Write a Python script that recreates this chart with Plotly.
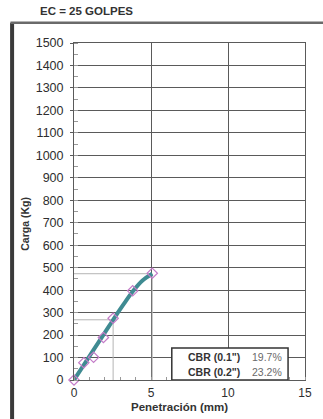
import plotly.graph_objects as go

# Load readings (mm, kg)
penetration = [0, 0.64, 1.27, 1.91, 2.54, 3.81, 5.08]
load = [0, 77, 101, 189, 275, 397, 475]

# Corrected curve
curve_pen = [0, 0.64, 1.27, 1.91, 2.54, 3.18, 3.81, 4.45, 5.08]
curve_load = [0, 67, 134, 201, 268, 333, 394, 443, 473]

# CBR reference penetrations and corrected loads
cbr_pen = [2.54, 5.08]
cbr_load = [268, 473]
cbr_labels = ['CBR (0.1")', 'CBR (0.2")']
cbr_values = ["19.7%", "23.2%"]

y_ticks = list(range(0, 1501, 100))
x_ticks = [0, 5, 10, 15]

FONT = "Liberation Sans, Arial, sans-serif"
GRID = "#5a5a5a"

fig = go.Figure()

# Guide lines from the axes to the corrected loads
for p, l in zip(cbr_pen, cbr_load):
    fig.add_trace(go.Scatter(
        x=[0, p, p], y=[l, l, 0], mode="lines",
        line=dict(color="#b4b4b4", width=1), hoverinfo="skip", showlegend=False))

fig.add_trace(go.Scatter(
    x=curve_pen, y=curve_load, mode="lines",
    line=dict(color="#3f8b92", width=4, shape="spline", smoothing=0.8),
    showlegend=False))

fig.add_trace(go.Scatter(
    x=penetration, y=load, mode="markers",
    marker=dict(symbol="diamond-open", size=8, color="#c47cc8", line=dict(width=1.2)),
    showlegend=False, cliponaxis=False))

# CBR summary box
fig.add_shape(type="rect", xref="x", yref="y", x0=6.35, x1=13.9, y0=0, y1=142,
              line=dict(color="#333333", width=1.5), fillcolor="white", layer="above")
for i, (lab, val) in enumerate(zip(cbr_labels, cbr_values)):
    yv = 102 - i * 66
    fig.add_annotation(x=10.9, y=yv, xref="x", yref="y", text=f"<b>{lab}</b>",
                       showarrow=False, xanchor="right", yanchor="middle",
                       font=dict(family=FONT, size=10.5, color="#333333"))
    fig.add_annotation(x=13.65, y=yv, xref="x", yref="y", text=val,
                       showarrow=False, xanchor="right", yanchor="middle",
                       font=dict(family=FONT, size=10.5, color="#6a6a6a"))

# Outer frame
fig.add_shape(type="line", xref="paper", yref="paper", x0=-0.268, x1=-0.268, y0=1.06, y1=-0.13,
              line=dict(color="#3a3a3a", width=4))
fig.add_shape(type="line", xref="paper", yref="paper", x0=-0.275, x1=1.2, y0=1.06, y1=1.06,
              line=dict(color="#6a6a6a", width=2.5))

fig.add_annotation(x=-0.155, y=1.095, xref="paper", yref="paper", text="<b>EC = 25 GOLPES</b>",
                   showarrow=False, xanchor="left", yanchor="middle",
                   font=dict(family=FONT, size=11.5, color="#333333"))
fig.add_annotation(x=0.458, y=-0.08, xref="paper", yref="paper", text="<b>Penetración (mm)</b>",
                   showarrow=False, xanchor="center", yanchor="middle",
                   font=dict(family=FONT, size=11.5, color="#333333"))
fig.add_annotation(x=-0.21, y=0.465, xref="paper", yref="paper", text="<b>Carga (Kg)</b>",
                   showarrow=False, textangle=-90, xanchor="center", yanchor="middle",
                   font=dict(family=FONT, size=10.5, color="#333333"))

fig.update_xaxes(range=[0, 15], tickvals=x_ticks, showgrid=True, gridcolor=GRID, gridwidth=1,
                 showline=True, linecolor=GRID, linewidth=1, mirror=True, zeroline=False,
                 ticks="", ticklabelstandoff=2, tickfont=dict(family=FONT, size=12, color="#2e2e2e"),
                 minor=dict(dtick=1, ticks="inside", ticklen=3, tickcolor="#999999", showgrid=False))
fig.update_yaxes(range=[0, 1500], tickvals=y_ticks, showgrid=True, gridcolor=GRID, gridwidth=1,
                 showline=True, linecolor=GRID, linewidth=1, mirror=True, zeroline=False,
                 ticks="outside", ticklen=3, tickcolor=GRID, ticklabelstandoff=4,
                 tickfont=dict(family=FONT, size=12.5, color="#2e2e2e"),
                 minor=dict(dtick=50, ticks="inside", ticklen=4, tickcolor="#999999", showgrid=False))

fig.update_layout(width=323, height=419, margin=dict(l=74, r=18, t=43, b=39),
                  paper_bgcolor="white", plot_bgcolor="white")

fig.write_html("out.html")
